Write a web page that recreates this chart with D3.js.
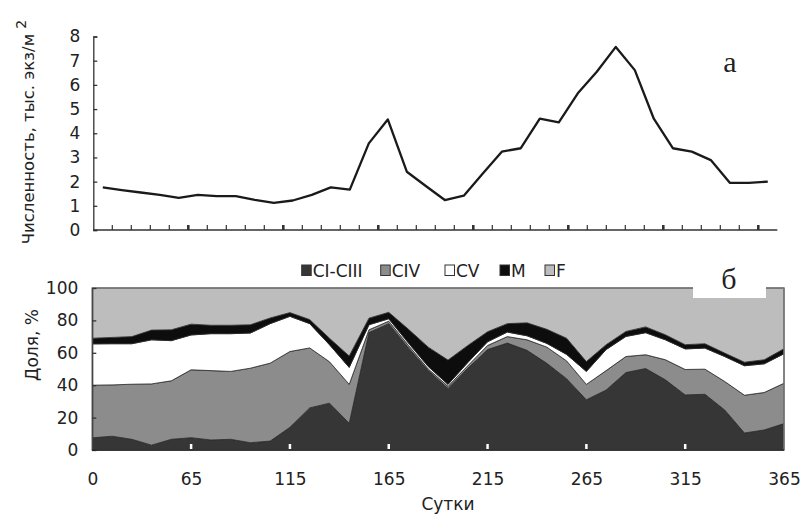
<!DOCTYPE html>
<html>
<head>
<meta charset="utf-8">
<script src="https://cdn.jsdelivr.net/npm/d3@7"></script>
<style>
  body { margin: 0; background: #fff; }
  text { font-family: "DejaVu Sans", Arial, sans-serif; fill: #222; }
</style>
</head>
<body>
<svg id="chart"></svg>
<script>
// labels of the day axis (every 5th point)
const dayLabels = ["0", "65", "115", "165", "215", "265", "315", "365"];

// panel a: abundance, thousand ind./m2, 36 samplings
const abundance = [1.76, 1.65, 1.55, 1.45, 1.33, 1.45, 1.40, 1.40, 1.25, 1.12, 1.22, 1.45,
  1.76, 1.67, 3.58, 4.57, 2.41, 1.82, 1.24, 1.42, 2.34, 3.24, 3.38, 4.60,
  4.45, 5.65, 6.54, 7.57, 6.61, 4.60, 3.38, 3.24, 2.89, 1.95, 1.95, 2.00];

// panel b: share of stages, %
const stageKeys = ["CI-CIII", "CIV", "CV", "M", "F"];
const cI_III = [7.5, 8.5, 6.6, 3.0, 6.6, 7.6, 6.2, 6.6, 4.5, 5.5, 14.0, 26.0,
  28.9, 16.5, 72.5, 78.0, 63.0, 49.0, 38.0, 50.5, 62.0, 66.0, 61.5, 53.5,
  44.0, 31.0, 37.0, 47.8, 50.3, 43.3, 34.0, 34.4, 24.7, 10.5, 12.4, 16.3];
const cIV = [32.5, 31.7, 34.0, 37.8, 36.1, 41.9, 42.8, 41.9, 46.0, 48.1, 46.8, 37.0,
  25.6, 24.0, 1.7, 1.5, 1.5, 1.0, 1.3, 1.5, 2.5, 4.0, 6.5, 10.0,
  11.0, 9.5, 12.0, 9.9, 8.5, 12.4, 15.7, 15.5, 17.6, 23.3, 23.1, 24.9];
const cV = [25.5, 25.4, 25.0, 27.2, 24.8, 21.5, 22.8, 23.3, 21.7, 24.4, 21.7, 15.0,
  10.5, 10.5, 3.1, 1.5, 1.5, 1.5, 1.2, 2.0, 2.3, 2.8, 2.5, 2.3,
  4.0, 8.0, 13.0, 12.4, 13.6, 12.3, 12.7, 13.0, 15.4, 18.2, 17.7, 18.2];
const males = [3.5, 3.9, 4.4, 6.0, 6.7, 6.7, 5.2, 5.2, 5.1, 3.5, 2.3, 2.5,
  4.0, 7.0, 4.1, 4.0, 8.5, 12.0, 15.0, 10.5, 6.2, 5.2, 8.0, 8.7,
  10.0, 6.1, 3.0, 3.1, 3.6, 3.1, 2.6, 2.7, 2.1, 2.2, 2.5, 3.1];
const females = [31, 30.5, 30, 26, 25.8, 22.3, 23, 23, 22.7, 18.5, 15.2, 19.5,
  31, 42, 18.6, 15, 25.5, 36.5, 44.5, 35.5, 27, 22, 21.5, 25.5,
  31, 45.4, 35, 26.8, 24, 28.9, 35, 34.4, 40.2, 45.8, 44.3, 37.5];

const stageColors = ["#363636", "#8c8c8c", "#ffffff", "#0d0d0d", "#bdbdbd"];

const svg = d3.select("#chart")
  .attr("width", 806)
  .attr("height", 515);

svg.append("rect").attr("width", 806).attr("height", 515).attr("fill", "#fff");

// ---------- panel a ----------
const xa = d3.scaleBand()
  .domain(d3.range(abundance.length))
  .range([93.3, 777.3]);
const ya = d3.scaleLinear().domain([0, 8]).range([230, 36.5]);

const gA = svg.append("g");

gA.append("g")
  .attr("transform", "translate(93.3,0)")
  .call(d3.axisLeft(ya).ticks(8).tickSize(-4).tickPadding(13))
  .call(g => g.selectAll("path, line").attr("stroke", "#333").attr("stroke-width", 1.3))
  .call(g => g.selectAll("text").attr("font-size", 17).attr("fill", "#222"));

gA.append("line")
  .attr("x1", xa.range()[0]).attr("x2", xa.range()[1])
  .attr("y1", ya(0)).attr("y2", ya(0))
  .attr("stroke", "#333").attr("stroke-width", 1.5);

// tick marks between the categories
gA.selectAll(".xt")
  .data(d3.range(1, abundance.length))
  .join("line")
  .attr("x1", d => xa(d)).attr("x2", d => xa(d))
  .attr("y1", ya(0)).attr("y2", ya(0) - 5)
  .attr("stroke", "#333")
  .attr("stroke-width", d => d % 5 === 0 ? 2.6 : 1.2);

const line = d3.line()
  .x((d, i) => xa(i) + xa.bandwidth() / 2)
  .y(d => ya(d));

gA.append("path")
  .datum(abundance)
  .attr("d", line)
  .attr("fill", "none")
  .attr("stroke", "#1a1a1a")
  .attr("stroke-width", 2.3)
  .attr("stroke-linejoin", "round");

const labA = gA.append("text")
  .attr("transform", "translate(34,132) rotate(-90)")
  .attr("text-anchor", "middle")
  .attr("font-size", 16.5)
  .attr("fill", "#333");
labA.append("tspan").text("Численность, тыс. экз/м ");
labA.append("tspan").attr("dy", -8).attr("font-size", 14).text("2");

gA.append("text")
  .attr("x", 730).attr("y", 72)
  .attr("text-anchor", "middle")
  .style("font-family", "'Liberation Serif', 'Times New Roman', serif")
  .attr("font-size", 30)
  .attr("fill", "#111")
  .text("а");

// ---------- panel b ----------
const xb = d3.scaleLinear().domain([0, 35]).range([92.3, 784]);
const yb = d3.scaleLinear().domain([0, 100]).range([450, 288]);

const rows = d3.range(cI_III.length).map(i => ({
  "CI-CIII": cI_III[i], "CIV": cIV[i], "CV": cV[i], "M": males[i], "F": females[i]
}));
const stacked = d3.stack().keys(stageKeys)(rows);

const area = d3.area()
  .x((d, i) => xb(i))
  .y0(d => yb(d[0]))
  .y1(d => yb(d[1]));

const gB = svg.append("g");

gB.selectAll(".layer")
  .data(stacked)
  .join("path")
  .attr("d", area)
  .attr("fill", (d, i) => stageColors[i])
  .attr("stroke", "#2a2a2a")
  .attr("stroke-width", 0.8);

// plot frame
gB.append("rect")
  .attr("x", xb(0)).attr("y", yb(100))
  .attr("width", xb(35) - xb(0)).attr("height", yb(0) - yb(100))
  .attr("fill", "none").attr("stroke", "#777").attr("stroke-width", 1.5);

gB.append("g")
  .attr("transform", `translate(${xb(0)},0)`)
  .call(d3.axisLeft(yb).tickValues([0, 20, 40, 60, 80, 100]).tickSize(-4).tickPadding(14))
  .call(g => g.select(".domain").attr("stroke", "#333"))
  .call(g => g.selectAll("line").attr("stroke", "#333").attr("stroke-width", 1.3))
  .call(g => g.selectAll("text").attr("font-size", 17).attr("fill", "#222"));

gB.append("line")
  .attr("x1", xb(0)).attr("x2", xb(35))
  .attr("y1", yb(0)).attr("y2", yb(0))
  .attr("stroke", "#222").attr("stroke-width", 1.5);

const dayIdx = d3.range(0, 36, 5);
gB.append("g")
  .attr("transform", `translate(0,${yb(0)})`)
  .call(d3.axisBottom(xb).tickValues(dayIdx).tickFormat((d, i) => dayLabels[i]).tickSize(0).tickPadding(23))
  .call(g => g.select(".domain").remove())
  .call(g => g.selectAll("text").attr("font-size", 17).attr("fill", "#222"));

// white ticks on the dark area
gB.selectAll(".wt")
  .data(dayIdx.slice(1, -1))
  .join("line")
  .attr("x1", d => xb(d)).attr("x2", d => xb(d))
  .attr("y1", yb(0) - 1).attr("y2", yb(0) - 6)
  .attr("stroke", "#fff").attr("stroke-width", 2.5);

svg.append("text")
  .attr("x", 448).attr("y", 510)
  .attr("text-anchor", "middle")
  .attr("font-size", 17)
  .text("Сутки");

svg.append("text")
  .attr("transform", "translate(38,345) rotate(-90)")
  .attr("text-anchor", "middle")
  .attr("font-size", 17)
  .text("Доля, %");

// legend
const legendX = [301.7, 380.7, 445, 500, 545];
const legend = svg.append("g");
stageKeys.forEach((k, i) => {
  legend.append("rect")
    .attr("x", legendX[i]).attr("y", 265)
    .attr("width", 9.5).attr("height", 10.5)
    .attr("fill", stageColors[i])
    .attr("stroke", "#333").attr("stroke-width", 1);
  legend.append("text")
    .attr("x", legendX[i] + 11).attr("y", 276.5)
    .attr("font-size", 17)
    .text(k);
});

// white box with panel letter
svg.append("rect")
  .attr("x", 693).attr("y", 262).attr("width", 73).attr("height", 36)
  .attr("fill", "#fff");
svg.append("text")
  .attr("x", 729).attr("y", 289)
  .attr("text-anchor", "middle")
  .style("font-family", "'Liberation Serif', 'Times New Roman', serif")
  .attr("font-size", 30)
  .attr("fill", "#111")
  .text("б");
</script>
</body>
</html>
